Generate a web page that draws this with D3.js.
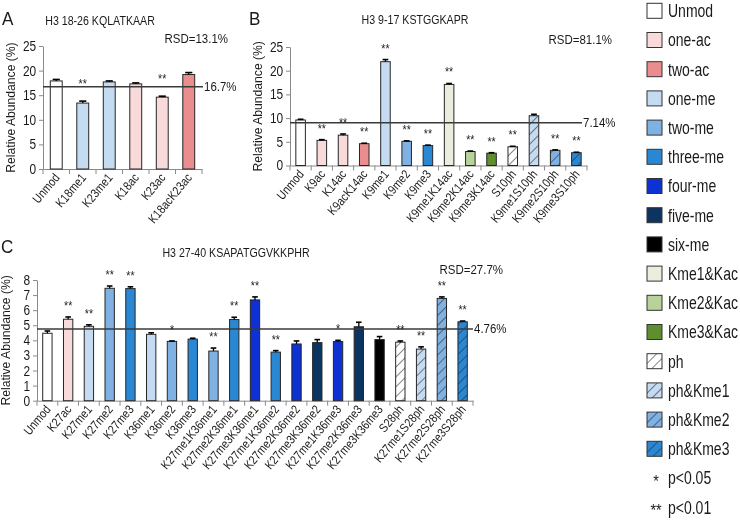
<!DOCTYPE html>
<html><head><meta charset="utf-8">
<script src="https://cdn.jsdelivr.net/npm/d3@7"></script>
<style>body{margin:0;background:#fff}svg{display:block;will-change:transform}text{font-family:"Liberation Sans",Arial,sans-serif}</style>
</head><body><svg id="chart" width="740" height="520"></svg>
<script>
// ---------- DATA ----------
const aCategories = ["Unmod","K18me1","K23me1","K18ac","K23ac","K18acK23ac"];
const aValues = [17.9,13.4,17.7,17.3,14.6,19.2];
const aErrors = [0.3,0.4,0.2,0.2,0.2,0.4];
const aSig = ["","**","","","**",""];
const aTypes = ["Unmod","one-me","one-me","one-ac","one-ac","two-ac"];
const aRef = 16.7, aRefLabel = "16.7%", aRSD = "RSD=13.1%", aTitle = "H3 18-26 KQLATKAAR";
const aTicks = [0,5,10,15,20,25];

const bCategories = ["Unmod","K9ac","K14ac","K9acK14ac","K9me1","K9me2","K9me3","K9me1K14ac","K9me2K14ac","K9me3K14ac","S10ph","K9me1S10ph","K9me2S10ph","K9me3S10ph"];
const bValues = [9.6,5.3,6.4,4.6,21.9,5.1,4.2,17.1,2.95,2.6,3.95,10.5,3.2,2.7];
const bErrors = [0.15,0.15,0.25,0.1,0.45,0.1,0.1,0.2,0.1,0.1,0.1,0.3,0.1,0.1];
const bSig = ["","**","**","**","**","**","**","**","**","**","**","","**","**"];
const bTypes = ["Unmod","one-ac","one-ac","two-ac","one-me","two-me","three-me","Kme1&Kac","Kme2&Kac","Kme3&Kac","ph","ph&Kme1","ph&Kme2","ph&Kme3"];
const bRef = 9.0, bRefLabel = "7.14%", bRSD = "RSD=81.1%", bTitle = "H3 9-17 KSTGGKAPR";
const bTicks = [0,5,10,15,20,25];

const cCategories = ["Unmod","K27ac","K27me1","K27me2","K27me3","K36me1","K36me2","K36me3","K27me1K36me1","K27me2K36me1","K27me3K36me1","K27me1K36me2","K27me2K36me2","K27me3K36me2","K27me1K36me3","K27me2K36me3","K27me3K36me3","S28ph","K27me1S28ph","K27me2S28ph","K27me3S28ph"];
const cValues = [4.47,5.4,4.93,7.45,7.43,4.4,3.93,4.08,3.29,5.38,6.68,3.22,3.76,3.85,3.92,4.9,4.05,3.88,3.42,6.78,5.23];
const cErrors = [0.15,0.15,0.1,0.15,0.12,0.1,0.03,0.06,0.2,0.15,0.2,0.1,0.2,0.2,0.08,0.3,0.2,0.08,0.15,0.1,0.05];
const cSig = ["","**","**","**","**","","*","","**","**","**","**","","","*","","","**","**","**","**"];
const cTypes = ["Unmod","one-ac","one-me","two-me","three-me","one-me","two-me","three-me","two-me","three-me","four-me","three-me","four-me","five-me","four-me","five-me","six-me","ph","ph&Kme1","ph&Kme2","ph&Kme3"];
const cRef = 4.76, cRefLabel = "4.76%", cRSD = "RSD=27.7%", cTitle = "H3 27-40 KSAPATGGVKKPHR";
const cTicks = [0,1,2,3,4,5,6,7,8];

const legendNames = ["Unmod","one-ac","two-ac","one-me","two-me","three-me","four-me","five-me","six-me","Kme1&Kac","Kme2&Kac","Kme3&Kac","ph","ph&Kme1","ph&Kme2","ph&Kme3"];
const legendFills = ["#ffffff","#f9dadb","#ea8d8e","#c5dbf1","#7fb1e3","#2a87d4","#0d31d3","#0c3460","#000000","#e9efdc","#b7d399","#5e8e2e","#ffffff","#c5dbf1","#7fb1e3","#2a87d4"];
const legendHatched = [false,false,false,false,false,false,false,false,false,false,false,false,true,true,true,true];
const sigSymbols = ["*","**"];
const sigLabels = ["p<0.05","p<0.01"];

// ---------- DRAW ----------
const svg = d3.select("#chart");
const defs = svg.append("defs");
const fillOf = {};
legendNames.forEach((n,i)=>{
  if(legendHatched[i]){
    const id = "hatch"+i;
    const p = defs.append("pattern").attr("id",id).attr("patternUnits","userSpaceOnUse")
      .attr("width",7).attr("height",7).attr("patternTransform","rotate(45)");
    p.append("rect").attr("width",7).attr("height",7).attr("fill",legendFills[i]);
    p.append("line").attr("x1",0).attr("y1",0).attr("x2",0).attr("y2",7).attr("stroke","#222").attr("stroke-width",1.1);
    fillOf[n] = "url(#"+id+")";
  } else fillOf[n] = legendFills[i];
});

const SX = 0.85;
function txt(g, x, y, s, opts){
  opts = opts||{};
  return g.append("text")
    .attr("transform", `translate(${x},${y}) rotate(${opts.rot||0}) scale(${opts.sx||SX},1)`)
    .attr("font-size", opts.size||12)
    .attr("text-anchor", opts.anchor||"start")
    .attr("fill", opts.fill||"#1a1a1a")
    .text(s);
}

function panel(cfg){
  const g = svg.append("g");
  const x = d3.scaleBand().domain(cfg.cats).range([cfg.x0,cfg.x1]).paddingInner(0.55).paddingOuter(0.275);
  const y = d3.scaleLinear().domain([0,cfg.ticks[cfg.ticks.length-1]]).range([cfg.yb,cfg.yt]);
  const ya = g.append("g").attr("transform",`translate(${cfg.x0},0)`)
    .call(d3.axisLeft(y).tickValues(cfg.ticks).tickSize(4).tickPadding(4).tickSizeOuter(0));
  ya.select(".domain").attr("stroke","#8a8a8a");
  ya.selectAll(".tick line").attr("stroke","#8a8a8a");
  ya.selectAll(".tick text").attr("font-size",14).attr("fill","#1a1a1a")
    .attr("font-family",'"Liberation Sans",Arial,sans-serif')
    .attr("transform",`scale(${SX},1)`);
  const xa = g.append("g").attr("transform",`translate(0,${cfg.yb})`)
    .call(d3.axisBottom(x).tickSize(0).tickFormat(""));
  xa.select(".domain").attr("stroke","#8a8a8a");
  const step = x.step();
  const bounds = cfg.cats.map(c => x(c) - (step - x.bandwidth())/2).concat([cfg.x1]);
  g.selectAll(".bnd").data(bounds).join("line").attr("class","bnd")
    .attr("x1",d=>d).attr("x2",d=>d).attr("y1",cfg.yb).attr("y2",cfg.yb+5)
    .attr("stroke","#8a8a8a");
  const data = cfg.cats.map((c,i)=>({c, v:cfg.vals[i], e:cfg.errs[i], s:cfg.sig[i], t:cfg.types[i]}));
  g.selectAll(".bar").data(data).join("rect").attr("class","bar")
    .attr("x",d=>x(d.c)).attr("width",x.bandwidth())
    .attr("y",d=>y(d.v)).attr("height",d=>y(0)-y(d.v))
    .attr("fill",d=>fillOf[d.t]).attr("stroke","#262626").attr("stroke-width",1);
  const cap = x.bandwidth()*0.6;
  g.selectAll(".err").data(data).join("line").attr("class","err")
    .attr("x1",d=>x(d.c)+x.bandwidth()/2).attr("x2",d=>x(d.c)+x.bandwidth()/2)
    .attr("y1",d=>y(d.v)).attr("y2",d=>y(d.v+d.e)).attr("stroke","#000").attr("stroke-width",1.3);
  g.selectAll(".cap").data(data).join("line").attr("class","cap")
    .attr("x1",d=>x(d.c)+x.bandwidth()/2-cap/2).attr("x2",d=>x(d.c)+x.bandwidth()/2+cap/2)
    .attr("y1",d=>y(d.v+d.e)).attr("y2",d=>y(d.v+d.e)).attr("stroke","#000").attr("stroke-width",1.6);
  g.append("line").attr("x1",cfg.x0).attr("x2",cfg.refEnd).attr("y1",y(cfg.ref)).attr("y2",y(cfg.ref))
    .attr("stroke","#3a3a3a").attr("stroke-width",1.5);
  txt(g, cfg.refEnd+1, y(cfg.ref)+4.5, cfg.refLabel, {size:13.5});
  data.filter(d=>d.s).forEach(d=>{
    txt(g, x(d.c)+x.bandwidth()/2, y(d.v+d.e)-cfg.starGap, d.s, {size:12.5, anchor:"middle", fill:"#222"});
  });
  data.forEach(d=>{
    txt(g, x(d.c)+x.bandwidth()/2+4, cfg.yb+9, d.c, {size:12.5, anchor:"end", rot:-50});
  });
  txt(g, cfg.ytx, (cfg.yt+cfg.yb)/2, "Relative Abundance (%)", {size:12.8, anchor:"middle", rot:-90, sx:0.95});
  txt(g, cfg.titleX, cfg.titleY, cfg.title, {size:12.5, anchor:"middle"});
  txt(g, cfg.letterX, cfg.letterY, cfg.letter, {size:18, sx:0.95});
  txt(g, cfg.rsdX, cfg.rsdY, cfg.rsd, {size:13.5, anchor:"end"});
}

panel({cats:aCategories, vals:aValues, errs:aErrors, sig:aSig, types:aTypes, ticks:aTicks,
  x0:43, x1:202, yb:169, yt:46, ref:aRef, refLabel:aRefLabel, refEnd:203, rsd:aRSD, title:aTitle,
  titleX:100, titleY:25, letter:"A", letterX:2, letterY:25, rsdX:228, rsdY:43, ytx:15, starGap:13});
panel({cats:bCategories, vals:bValues, errs:bErrors, sig:bSig, types:bTypes, ticks:bTicks,
  x0:290, x1:587, yb:165.5, yt:47, ref:bRef, refLabel:bRefLabel, refEnd:582, rsd:bRSD, title:bTitle,
  titleX:415, titleY:24, letter:"B", letterX:249, letterY:25, rsdX:612, rsdY:44, ytx:262, starGap:7});
panel({cats:cCategories, vals:cValues, errs:cErrors, sig:cSig, types:cTypes, ticks:cTicks,
  x0:37, x1:473, yb:400.7, yt:280, ref:cRef, refLabel:cRefLabel, refEnd:473, rsd:cRSD, title:cTitle,
  titleX:236, titleY:257, letter:"C", letterX:1, letterY:253, rsdX:503, rsdY:274, ytx:10, starGap:7});

const lg = svg.append("g");
const rowY = d3.scaleLinear().domain([0,1]).range([10.8,40]);
legendNames.forEach((n,i)=>{
  const cy = rowY(i);
  lg.append("rect").attr("x",647).attr("y",cy-7.5).attr("width",15).attr("height",15)
    .attr("fill",fillOf[n]).attr("stroke","#333").attr("stroke-width",1);
  txt(lg, 668, cy+6.3, n, {size:17.5, sx:0.8});
});
sigSymbols.forEach((s,j)=>{
  const cy = rowY(legendNames.length+j);
  txt(lg, 656, cy+9, s, {size:16, anchor:"middle", sx:0.9});
  txt(lg, 668, cy+6.3, sigLabels[j], {size:17.5, sx:0.8});
});
</script></body></html>
